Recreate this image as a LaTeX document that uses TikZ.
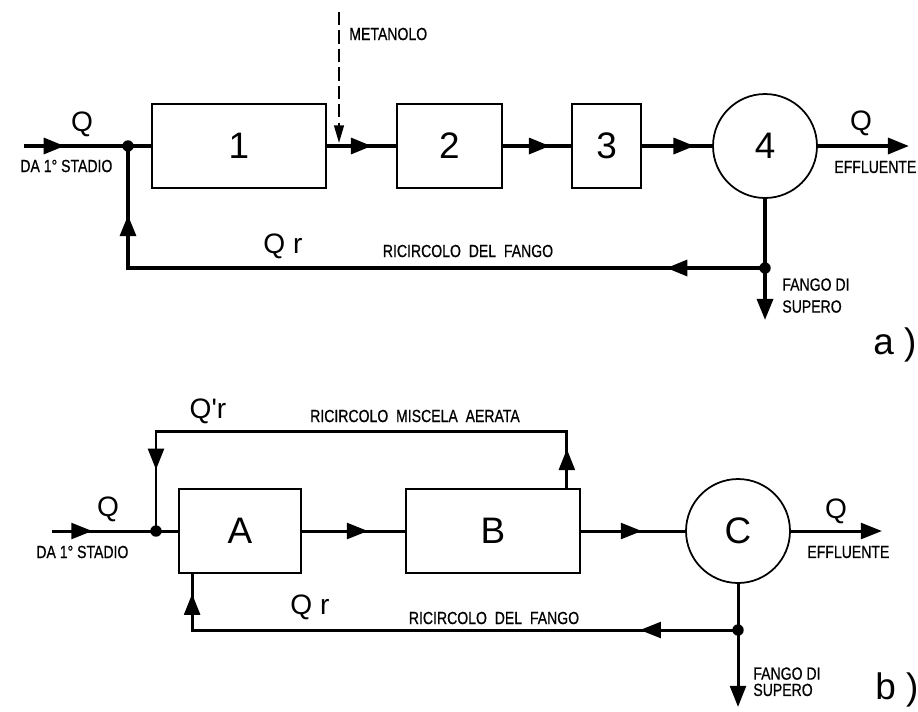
\documentclass[tikz,border=0pt]{standalone}
\usepackage{fontspec}
\setmainfont{Liberation Sans}
\newfontfamily\narrowfont[FakeStretch=0.8, FakeBold=0.6]{Liberation Sans}
\usetikzlibrary{arrows.meta, positioning, calc, decorations.markings}

\begin{document}
\begin{tikzpicture}[x=0.02cm, y=-0.02cm, >={Triangle[length=12pt, width=9pt]}]
        % Stiluri
        \tikzstyle{block} = [draw, rectangle, line width=1pt, minimum height=1.68cm, font=\fontsize{21}{24}\selectfont]
        \tikzstyle{settler} = [draw, circle, line width=1pt, minimum size=2.08cm, inner sep=0pt, font=\fontsize{21}{24}\selectfont]
        \tikzstyle{tag} = [inner sep=0pt, align=left, font=\narrowfont\fontsize{10}{12.5}\selectfont]
        \tikzstyle{tagb} = [inner sep=0pt, align=left, font=\narrowfont\fontsize{10}{9.3}\selectfont]
        \tikzstyle{flow} = [inner sep=0pt, font=\fontsize{16}{18}\selectfont]
        \tikzstyle{dot} = [circle, fill, inner sep=0pt, minimum size=6.5pt]
        \tikzstyle{pipeA} = [line width=2.2pt]
        \tikzstyle{pipeB} = [line width=1.7pt]
        \tikzset{midarrow/.style={postaction={decorate, decoration={markings, mark=at position #1 with {\arrow{>}}}}}}

        \useasboundingbox (0,0) rectangle (918,711);

        % ===== a) =====
        \node [block, minimum width=3.48cm] (s1) at (239,146) {1};
        \node [block, minimum width=2.10cm] (s2) at (449.5,146) {2};
        \node [block, minimum width=1.38cm] (s3) at (606.5,146) {3};
        \node [settler] (s4) at (765,146) {4};

        % --- intrare / iesire ---
        \coordinate (in_a) at (24,146);
        \node [dot] (j_in_a) at (128,146) {};
        \draw [pipeA, midarrow=0.32] (in_a) -- (s1);
        \draw [pipeA, midarrow=0.65] (s1) -- (s2);
        \draw [pipeA, midarrow=0.69] (s2) -- (s3);
        \draw [pipeA, midarrow=0.75] (s3) -- (s4);
        \coordinate (out_a) at (909,146);
        \draw [pipeA, ->] (s4) -- (out_a);

        % --- metanolo ---
        \coordinate (meth) at (339,12);
        \coordinate (meth_in) at (339,143);
        \draw [line width=1.2pt, dash pattern=on 7.5pt off 3pt, -{Triangle[length=10pt, width=5.5pt]}] (meth) -- (meth_in);

        % --- ricircolo / supero ---
        \node [dot] (j_ret_a) at (765,268) {};
        \coordinate (waste_a) at (765,320);
        \draw [pipeA, ->] (s4) -- (waste_a);
        \draw [pipeA, midarrow=0.13, midarrow=0.909] (j_ret_a.center) -| (j_in_a.center);

        \node [flow] at (82,124) {Q};
        \node [tag, anchor=west] at (20,166) {DA 1° STADIO};
        \node [tag, anchor=west] at (349,34) {METANOLO};
        \node [flow] at (861,123) {Q};
        \node [tag, anchor=west] at (834,167) {EFFLUENTE};
        \node [tag, anchor=north west] at (782,278) {FANGO DI\\SUPERO};
        \node [flow] at (283,246) {Q r};
        \node [tag] at (468,251) {RICIRCOLO \ DEL \ FANGO};
        \node [font=\fontsize{21}{24}\selectfont] at (895,345) {a )};

        % ===== b) =====
        \node [block, minimum width=2.44cm] (sA) at (240,531) {A};
        \node [block, minimum width=3.48cm] (sB) at (493,531) {B};
        \node [settler] (sC) at (738,531) {C};

        % --- intrare / iesire ---
        \coordinate (in_b) at (52,531);
        \node [dot] (j_in_b) at (156,531) {};
        \draw [pipeB, midarrow=0.32] (in_b) -- (sA);
        \draw [pipeB, midarrow=0.64] (sA) -- (sB);
        \draw [pipeB, midarrow=0.585] (sB) -- (sC);
        \coordinate (out_b) at (882,531);
        \draw [pipeB, ->] (sC) -- (out_b);

        % --- ricircolo miscela ---
        \coordinate (mix_b) at ($(sB.north east)+(-14,0)$);
        \draw [pipeB, midarrow=0.069, midarrow=0.892] (mix_b) -- ++(0,-57) -| (j_in_b.center);

        % --- ricircolo fango / supero ---
        \node [dot] (j_ret_b) at (738,630) {};
        \coordinate (waste_b) at (738,707);
        \draw [pipeB, ->] (sC) -- (waste_b);
        \coordinate (ret_b) at ($(sA.south west)+(14,0)$);
        \draw [pipeB, midarrow=0.163, midarrow=0.967] (j_ret_b.center) -| (ret_b);

        \node [flow] at (108,509) {Q};
        \node [tag, anchor=west] at (36,552) {DA 1° STADIO};
        \node [flow] at (208,411) {Q\textquotesingle r};
        \node [tagb] at (415,416) {RICIRCOLO \ MISCELA \ AERATA};
        \node [flow] at (836,511) {Q};
        \node [tagb, anchor=west] at (807,552) {EFFLUENTE};
        \node [tagb, anchor=north west] at (753,667) {FANGO DI\\SUPERO};
        \node [flow] at (310,607) {Q r};
        \node [tagb] at (494,618) {RICIRCOLO \ DEL \ FANGO};
        \node [font=\fontsize{21}{24}\selectfont] at (897,690) {b )};

    \end{tikzpicture}
\end{document}
